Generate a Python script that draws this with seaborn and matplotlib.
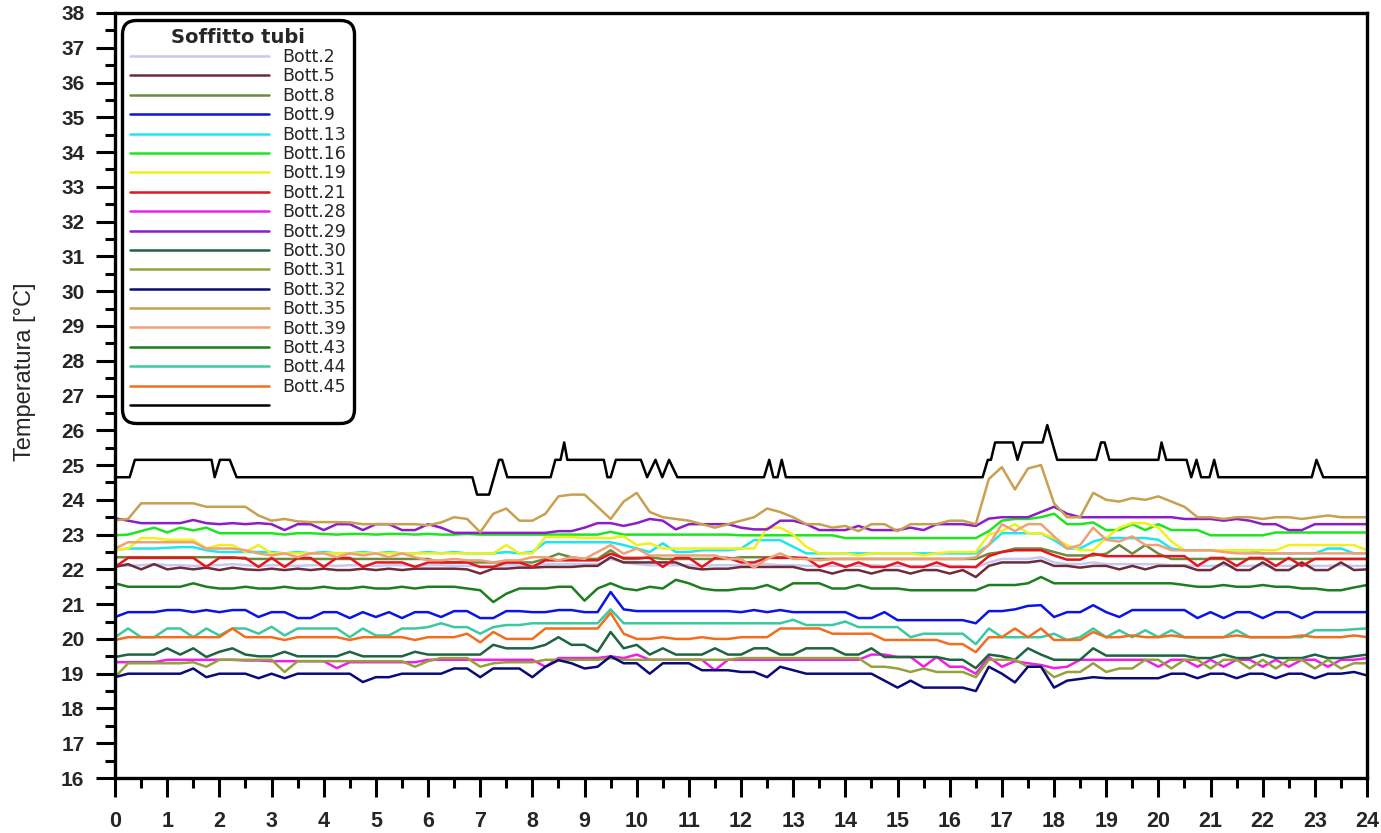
import numpy as np
import pandas as pd
import matplotlib
matplotlib.use("Agg")
import matplotlib.pyplot as plt
from matplotlib.lines import Line2D
import seaborn as sns

# --- dati (passo 0.25 h) ---
ore = np.arange(97) * 0.25

b2 = [22.12,22.1,22.12,22.15, 22.12,22.12,22.1,22.12, 22.12,22.15,22.12,22.1, 22.12,22.12,22.1,22.12,
      22.12,22.1,22.12,22.12, 22.1,22.12,22.12,22.1, 22.12,22.12,22.1,22.1, 22.1,22.1,22.12,22.12,
      22.12,22.15,22.15,22.15, 22.15,22.15,22.3,22.2, 22.15,22.12,22.12,22.12, 22.12,22.1,22.12,22.12,
      22.12,22.15,22.15,22.12, 22.12,22.1,22.1,22.1, 22.1,22.1,22.12,22.1, 22.1,22.1,22.1,22.1,
      22.1,22.1,22.05,22.2, 22.3,22.3,22.3,22.35, 22.2,22.15,22.15,22.2, 22.15,22.15,22.15,22.15,
      22.15,22.12,22.12,22.1, 22.1,22.12,22.1,22.1, 22.12,22.1,22.1,22.12, 22.1,22.1,22.12,22.1, 22.1]
b5 = [22.07,22.15,22.0,22.15, 22.0,22.05,22.0,22.05, 21.98,22.05,22.0,21.98, 22.02,21.98,22.02,21.98,
      22.02,21.98,21.98,22.02, 21.98,22.02,21.98,22.02, 22.02,22.02,22.02,22.0, 21.88,22.02,22.02,22.05,
      22.05,22.07,22.07,22.07, 22.1,22.1,22.35,22.2, 22.2,22.2,22.2,22.2, 22.05,22.0,22.02,22.02,
      22.07,22.07,22.07,22.07, 22.07,21.98,21.98,21.88, 21.98,21.98,21.88,21.98, 21.98,21.88,21.98,21.98,
      21.88,21.98,21.78,22.1, 22.2,22.2,22.2,22.25, 22.1,22.1,22.05,22.1, 22.1,22.0,22.1,22.0,
      22.1,22.1,22.1,21.98, 21.98,22.2,21.98,21.98, 22.2,21.98,21.98,22.2, 21.98,21.98,22.2,21.98, 22.0]
b8 = [22.35,22.35,22.35,22.35, 22.35,22.35,22.35,22.35, 22.35,22.35,22.3,22.3, 22.3,22.3,22.3,22.3,
      22.3,22.3,22.3,22.3, 22.3,22.3,22.3,22.3, 22.3,22.2,22.2,22.2, 22.2,22.2,22.2,22.2,
      22.2,22.3,22.45,22.35, 22.3,22.3,22.55,22.3, 22.3,22.35,22.3,22.3, 22.3,22.3,22.3,22.3,
      22.35,22.35,22.35,22.35, 22.35,22.3,22.3,22.3, 22.3,22.3,22.3,22.3, 22.3,22.3,22.3,22.3,
      22.3,22.3,22.3,22.45, 22.5,22.6,22.6,22.6, 22.5,22.4,22.4,22.4, 22.45,22.7,22.45,22.7,
      22.45,22.3,22.3,22.3, 22.3,22.3,22.3,22.3, 22.3,22.3,22.3,22.3, 22.3,22.3,22.3,22.3, 22.3]
b9 = [20.63,20.77,20.77,20.77, 20.83,20.83,20.77,20.83, 20.77,20.83,20.83,20.63, 20.77,20.77,20.6,20.6,
      20.77,20.77,20.6,20.77, 20.63,20.77,20.6,20.77, 20.77,20.63,20.8,20.8, 20.6,20.6,20.8,20.8,
      20.77,20.77,20.83,20.83, 20.77,20.77,21.35,20.85, 20.8,20.8,20.8,20.8, 20.8,20.8,20.8,20.8,
      20.77,20.83,20.77,20.83, 20.77,20.77,20.77,20.77, 20.77,20.6,20.6,20.77, 20.54,20.54,20.54,20.54,
      20.54,20.54,20.45,20.8, 20.8,20.85,20.95,20.97, 20.63,20.77,20.77,20.97, 20.77,20.63,20.83,20.83,
      20.83,20.83,20.83,20.6, 20.77,20.6,20.77,20.77, 20.6,20.77,20.77,20.6, 20.77,20.77,20.77,20.77, 20.77]
b13 = [22.55,22.6,22.6,22.6, 22.62,22.64,22.64,22.55, 22.5,22.5,22.5,22.5, 22.5,22.46,22.5,22.46,
       22.5,22.46,22.46,22.5, 22.46,22.5,22.46,22.46, 22.5,22.46,22.5,22.46, 22.46,22.46,22.5,22.46,
       22.5,22.78,22.78,22.78, 22.78,22.78,22.78,22.7, 22.6,22.5,22.75,22.5, 22.5,22.55,22.55,22.55,
       22.6,22.84,22.84,22.84, 22.65,22.46,22.46,22.46, 22.46,22.46,22.46,22.46, 22.46,22.46,22.46,22.46,
       22.46,22.46,22.46,22.7, 23.04,23.04,23.04,23.04, 22.84,22.6,22.6,22.8, 22.9,22.9,22.9,22.9,
       22.85,22.6,22.55,22.55, 22.55,22.55,22.55,22.55, 22.46,22.46,22.46,22.46, 22.46,22.6,22.6,22.46, 22.46]
b16 = [22.98,23.0,23.1,23.2, 23.06,23.2,23.12,23.2, 23.04,23.04,23.04,23.04, 23.04,23.0,23.04,23.04,
       23.02,23.0,23.02,23.02, 23.0,23.02,23.02,23.0, 23.02,23.0,23.0,23.02, 23.0,23.0,23.0,23.0,
       23.0,23.0,23.0,23.0, 23.0,23.0,23.08,23.0, 23.0,23.0,23.0,23.0, 23.0,23.0,23.0,23.0,
       22.98,22.98,22.98,22.98, 22.98,22.98,22.98,22.98, 22.9,22.9,22.9,22.9, 22.9,22.9,22.9,22.9,
       22.9,22.9,22.9,23.1, 23.4,23.45,23.45,23.5, 23.6,23.3,23.3,23.35, 23.13,23.13,23.3,23.13,
       23.3,23.13,23.13,23.13, 22.98,22.98,22.98,22.98, 22.98,23.06,23.06,23.06, 23.06,23.06,23.06,23.06, 23.06]
b19 = [22.55,22.6,22.9,22.9, 22.85,22.85,22.85,22.6, 22.7,22.7,22.5,22.7, 22.46,22.46,22.46,22.46,
       22.46,22.46,22.46,22.46, 22.46,22.46,22.46,22.46, 22.46,22.46,22.46,22.46, 22.46,22.46,22.7,22.46,
       22.46,22.93,22.93,22.93, 22.9,22.9,22.9,22.95, 22.7,22.75,22.6,22.6, 22.6,22.6,22.6,22.6,
       22.6,22.6,23.2,23.2, 23.0,22.65,22.46,22.46, 22.46,22.4,22.46,22.46, 22.46,22.46,22.4,22.46,
       22.5,22.5,22.5,23.0, 23.1,23.3,23.04,23.04, 22.9,22.7,22.55,22.55, 22.9,23.2,23.33,23.33,
       23.2,22.8,22.55,22.55, 22.55,22.55,22.55,22.55, 22.55,22.55,22.7,22.7, 22.7,22.7,22.7,22.7, 22.55]
b21 = [22.07,22.33,22.33,22.33, 22.33,22.33,22.33,22.07, 22.33,22.33,22.33,22.07, 22.33,22.07,22.33,22.33,
       22.07,22.33,22.33,22.07, 22.2,22.2,22.2,22.07, 22.2,22.2,22.2,22.2, 22.07,22.07,22.2,22.2,
       22.07,22.26,22.26,22.26, 22.26,22.26,22.45,22.33, 22.33,22.33,22.07,22.33, 22.33,22.07,22.33,22.33,
       22.2,22.2,22.33,22.33, 22.33,22.33,22.07,22.2, 22.07,22.2,22.07,22.07, 22.2,22.07,22.07,22.2,
       22.07,22.07,22.07,22.38, 22.5,22.55,22.55,22.55, 22.4,22.28,22.28,22.45, 22.38,22.38,22.38,22.38,
       22.38,22.38,22.38,22.1, 22.33,22.33,22.1,22.33, 22.33,22.1,22.33,22.1, 22.3,22.3,22.3,22.3, 22.3]
b28 = [19.33,19.33,19.33,19.33, 19.4,19.4,19.4,19.4, 19.4,19.4,19.38,19.38, 19.36,19.36,19.36,19.36,
       19.36,19.16,19.33,19.33, 19.33,19.33,19.33,19.33, 19.4,19.4,19.4,19.4, 19.4,19.4,19.4,19.4,
       19.4,19.2,19.45,19.45, 19.45,19.45,19.5,19.45, 19.55,19.4,19.4,19.4, 19.4,19.4,19.1,19.4,
       19.4,19.4,19.4,19.4, 19.4,19.4,19.4,19.4, 19.4,19.4,19.55,19.55, 19.48,19.48,19.2,19.48,
       19.2,19.2,19.0,19.48, 19.2,19.36,19.3,19.25, 19.16,19.2,19.4,19.4, 19.4,19.4,19.4,19.4,
       19.2,19.4,19.4,19.2, 19.4,19.2,19.4,19.4, 19.2,19.4,19.2,19.4, 19.4,19.2,19.4,19.4, 19.45]
b29 = [23.47,23.4,23.33,23.33, 23.33,23.33,23.42,23.33, 23.3,23.33,23.3,23.33, 23.3,23.13,23.3,23.3,
       23.13,23.3,23.3,23.13, 23.3,23.3,23.13,23.13, 23.3,23.2,23.05,23.05, 23.05,23.05,23.05,23.05,
       23.05,23.05,23.1,23.1, 23.2,23.33,23.33,23.25, 23.33,23.45,23.4,23.15, 23.3,23.3,23.3,23.3,
       23.2,23.15,23.15,23.4, 23.4,23.3,23.13,23.13, 23.13,23.25,23.13,23.13, 23.13,23.2,23.13,23.3,
       23.3,23.3,23.25,23.46, 23.5,23.5,23.5,23.65, 23.8,23.6,23.5,23.5, 23.5,23.5,23.5,23.5,
       23.5,23.5,23.45,23.45, 23.45,23.4,23.45,23.4, 23.3,23.3,23.13,23.13, 23.3,23.3,23.3,23.3, 23.3]
b30 = [19.48,19.55,19.55,19.55, 19.73,19.55,19.73,19.48, 19.63,19.73,19.55,19.5, 19.5,19.63,19.5,19.5,
       19.5,19.5,19.63,19.5, 19.5,19.5,19.5,19.63, 19.55,19.55,19.55,19.55, 19.55,19.83,19.73,19.73,
       19.73,19.83,20.05,19.83, 19.83,19.63,20.2,19.73, 19.83,19.55,19.73,19.55, 19.55,19.55,19.73,19.55,
       19.55,19.73,19.73,19.55, 19.55,19.73,19.73,19.73, 19.55,19.55,19.73,19.48, 19.48,19.48,19.48,19.48,
       19.4,19.4,19.16,19.55, 19.5,19.4,19.73,19.55, 19.4,19.4,19.4,19.73, 19.52,19.52,19.52,19.52,
       19.52,19.52,19.52,19.45, 19.45,19.55,19.45,19.45, 19.55,19.45,19.45,19.45, 19.55,19.45,19.45,19.5, 19.55]
b31 = [18.9,19.3,19.3,19.3, 19.3,19.3,19.33,19.2, 19.4,19.4,19.4,19.4, 19.4,19.05,19.36,19.36,
       19.36,19.36,19.36,19.36, 19.36,19.36,19.36,19.2, 19.36,19.45,19.45,19.45, 19.2,19.3,19.33,19.33,
       19.33,19.4,19.4,19.4, 19.4,19.4,19.45,19.4, 19.4,19.4,19.4,19.4, 19.4,19.4,19.4,19.4,
       19.45,19.45,19.45,19.45, 19.45,19.45,19.45,19.45, 19.45,19.45,19.2,19.2, 19.15,19.05,19.15,19.05,
       19.05,19.05,18.9,19.4, 19.4,19.4,19.2,19.2, 18.9,19.05,19.05,19.3, 19.05,19.15,19.15,19.4,
       19.4,19.15,19.4,19.4, 19.15,19.4,19.4,19.15, 19.4,19.15,19.4,19.4, 19.15,19.4,19.15,19.3, 19.3]
b32 = [18.9,19.0,19.0,19.0, 19.0,19.0,19.15,18.9, 19.0,19.0,19.0,18.87, 19.0,18.87,19.0,19.0,
       19.0,19.0,19.0,18.76, 18.9,18.9,19.0,19.0, 19.0,19.0,19.15,19.15, 18.9,19.15,19.15,19.15,
       18.9,19.2,19.39,19.3, 19.15,19.2,19.5,19.3, 19.3,19.0,19.3,19.3, 19.3,19.1,19.1,19.1,
       19.05,19.05,18.9,19.2, 19.1,19.0,19.0,19.0, 19.0,19.0,19.0,18.8, 18.6,18.8,18.6,18.6,
       18.6,18.6,18.5,19.2, 19.0,18.75,19.2,19.2, 18.6,18.8,18.85,18.9, 18.87,18.87,18.87,18.87,
       18.87,19.0,19.0,18.87, 19.0,19.0,18.87,19.0, 19.0,18.87,19.0,19.0, 18.87,19.0,19.0,19.05, 18.95]
b35 = [23.41,23.45,23.9,23.9, 23.9,23.9,23.9,23.8, 23.8,23.8,23.8,23.55, 23.4,23.45,23.38,23.36,
       23.36,23.36,23.35,23.3, 23.3,23.3,23.3,23.3, 23.27,23.35,23.5,23.45, 23.07,23.6,23.75,23.4,
       23.4,23.6,24.1,24.15, 24.15,23.8,23.45,23.95, 24.2,23.65,23.5,23.45, 23.4,23.3,23.2,23.3,
       23.4,23.5,23.75,23.65, 23.5,23.3,23.3,23.2, 23.25,23.1,23.3,23.3, 23.1,23.3,23.3,23.3,
       23.4,23.4,23.3,24.6, 24.94,24.3,24.9,25.0, 23.9,23.5,23.5,24.2, 24.0,23.95,24.05,24.0,
       24.1,23.95,23.8,23.5, 23.5,23.45,23.5,23.5, 23.45,23.5,23.5,23.45, 23.5,23.55,23.5,23.5, 23.5]
b39 = [22.6,22.78,22.78,22.78, 22.78,22.78,22.78,22.6, 22.6,22.6,22.55,22.46, 22.4,22.46,22.35,22.46,
       22.46,22.35,22.46,22.4, 22.46,22.35,22.46,22.35, 22.26,22.26,22.3,22.26, 22.26,22.2,22.26,22.26,
       22.35,22.35,22.26,22.35, 22.3,22.5,22.7,22.45, 22.6,22.4,22.4,22.4, 22.4,22.4,22.4,22.3,
       22.3,22.05,22.3,22.46, 22.3,22.3,22.26,22.3, 22.3,22.3,22.3,22.3, 22.3,22.3,22.3,22.3,
       22.3,22.3,22.35,22.7, 23.3,23.1,23.3,23.3, 22.95,22.6,22.7,23.2, 22.85,22.8,22.95,22.7,
       22.7,22.55,22.55,22.55, 22.55,22.5,22.46,22.46, 22.46,22.46,22.46,22.46, 22.46,22.46,22.46,22.46, 22.46]
b43 = [21.6,21.5,21.5,21.5, 21.5,21.5,21.6,21.5, 21.45,21.45,21.5,21.45, 21.45,21.5,21.45,21.45,
       21.5,21.45,21.45,21.5, 21.45,21.45,21.5,21.45, 21.5,21.5,21.5,21.45, 21.4,21.06,21.3,21.45,
       21.45,21.45,21.5,21.5, 21.1,21.45,21.6,21.45, 21.4,21.5,21.45,21.7, 21.6,21.45,21.4,21.4,
       21.45,21.45,21.55,21.4, 21.6,21.6,21.6,21.45, 21.45,21.55,21.45,21.45, 21.45,21.4,21.4,21.4,
       21.4,21.4,21.4,21.55, 21.55,21.55,21.6,21.78, 21.6,21.6,21.6,21.6, 21.6,21.6,21.6,21.6,
       21.6,21.6,21.55,21.5, 21.5,21.55,21.5,21.5, 21.55,21.5,21.5,21.45, 21.45,21.4,21.4,21.48, 21.55]
b44 = [20.05,20.3,20.05,20.05, 20.3,20.3,20.05,20.3, 20.1,20.3,20.3,20.15, 20.35,20.1,20.3,20.3,
       20.3,20.3,20.05,20.3, 20.1,20.1,20.3,20.3, 20.34,20.45,20.34,20.34, 20.15,20.34,20.4,20.4,
       20.45,20.45,20.45,20.45, 20.45,20.45,20.85,20.45, 20.45,20.45,20.45,20.45, 20.45,20.45,20.45,20.45,
       20.45,20.45,20.45,20.45, 20.55,20.4,20.4,20.4, 20.5,20.34,20.34,20.34, 20.34,20.05,20.15,20.15,
       20.15,20.15,19.85,20.3, 20.05,20.05,20.05,20.05, 20.15,19.97,20.05,20.3, 20.05,20.25,20.05,20.25,
       20.05,20.25,20.05,20.05, 20.05,20.05,20.25,20.05, 20.05,20.05,20.05,20.05, 20.25,20.25,20.25,20.28, 20.3]
b45 = [19.97,20.05,20.05,20.05, 20.05,20.05,20.05,20.05, 20.05,20.3,20.05,20.05, 20.05,19.97,20.05,20.05,
       20.05,20.05,19.97,20.05, 20.05,20.05,20.05,19.97, 20.05,20.05,20.05,20.15, 19.9,20.2,20.0,20.0,
       20.0,20.3,20.3,20.3, 20.3,20.3,20.75,20.15, 20.0,20.0,20.05,20.0, 20.0,20.05,20.0,20.0,
       20.05,20.05,20.05,20.3, 20.3,20.3,20.3,20.15, 20.15,20.15,20.15,19.97, 19.97,19.97,19.97,19.97,
       19.85,19.85,19.62,20.05, 20.05,20.3,20.05,20.3, 19.97,19.97,19.97,20.2, 20.05,20.05,20.1,20.05,
       20.05,20.1,20.05,20.05, 20.05,20.05,20.1,20.05, 20.05,20.05,20.05,20.1, 20.05,20.05,20.05,20.1, 20.05]

# sonda senza nome (linea nera): punti di rottura
nero_t = [0, 0.28, 0.38, 1.85, 1.91, 2.01, 2.2, 2.33, 6.85, 6.94, 7.17, 7.36, 7.42, 7.52,
          8.35, 8.44, 8.54, 8.61, 8.67, 9.37, 9.44, 9.5, 9.6, 10.08, 10.2, 10.36, 10.49, 10.62,
          10.78, 12.44, 12.54, 12.62, 12.7, 12.78, 12.86, 16.63, 16.73, 16.79, 16.87, 17.21, 17.3,
          17.4, 17.78, 17.87, 18.06, 18.81, 18.9, 18.97, 19.06, 20.0, 20.06, 20.15, 20.54, 20.63,
          20.73, 20.82, 20.98, 21.07, 21.15, 22.94, 23.03, 23.16, 24]
nero_v = [24.65, 24.65, 25.15, 25.15, 24.65, 25.15, 25.15, 24.65, 24.65, 24.15, 24.15, 25.15, 25.15, 24.65,
          24.65, 25.15, 25.15, 25.65, 25.15, 25.15, 24.65, 24.65, 25.15, 25.15, 24.65, 25.15, 24.65, 25.15,
          24.65, 24.65, 25.15, 24.65, 24.65, 25.15, 24.65, 24.65, 25.15, 25.15, 25.65, 25.65, 25.15,
          25.65, 25.65, 26.15, 25.15, 25.15, 25.65, 25.65, 25.15, 25.15, 25.65, 25.15, 25.15, 24.65,
          25.15, 24.65, 24.65, 25.15, 24.65, 24.65, 25.15, 24.65, 24.65]

nomi = ["Bott.2", "Bott.5", "Bott.8", "Bott.9", "Bott.13", "Bott.16", "Bott.19", "Bott.21",
        "Bott.28", "Bott.29", "Bott.30", "Bott.31", "Bott.32", "Bott.35", "Bott.39",
        "Bott.43", "Bott.44", "Bott.45"]
valori = [b2, b5, b8, b9, b13, b16, b19, b21, b28, b29, b30, b31, b32, b35, b39, b43, b44, b45]
colori = ["#c8c8f0", "#6b2d3a", "#6e8b3d", "#0a14e6", "#1ee6f0", "#1ee61e", "#f0f01e", "#e6141e",
          "#f01ee6", "#8c1ec8", "#1e6440", "#96a03c", "#0a0a78", "#c8a050", "#f0a078",
          "#1e7d1e", "#3cc8a0", "#f06e1e"]

for v in valori:
    assert len(v) == len(ore)

df = pd.DataFrame({
    "ora": np.tile(ore, len(nomi)),
    "temp": np.concatenate(valori),
    "sonda": np.repeat(nomi, len(ore)),
})

sns.set_style("ticks")
plt.rcParams["font.family"] = ["Liberation Sans", "DejaVu Sans"]

fig = plt.figure(figsize=(13.81, 8.33), dpi=100)
ax = fig.add_axes([0.0833, 0.066, 0.9066, 0.9184])

lw = 1.8
sns.lineplot(data=df, x="ora", y="temp", hue="sonda", hue_order=nomi,
             palette=dict(zip(nomi, colori)), linewidth=lw, estimator=None,
             legend=False, ax=ax)
sns.lineplot(x=nero_t, y=nero_v, color="black", linewidth=lw, estimator=None,
             sort=False, ax=ax)

ax.set_xlim(0, 24)
ax.set_ylim(16, 38)
ax.set_xticks(range(0, 25))
ax.set_xticks(np.arange(0.5, 24, 1), minor=True)
ax.set_yticks(range(16, 39))
ax.set_yticks(np.arange(16.5, 38, 1), minor=True)
ax.set_xlabel("")
ax.set_ylabel("")

for s in ax.spines.values():
    s.set_linewidth(2.4)
    s.set_color("black")
ax.tick_params(which="major", direction="out", length=14, width=2.2, color="black")
ax.tick_params(which="minor", direction="out", length=7, width=2.2, color="black")
ax.tick_params(axis="x", which="major", pad=10)
ax.tick_params(axis="y", which="major", pad=8)

for lab in ax.get_yticklabels():
    lab.set_fontsize(15)
    lab.set_fontweight("bold")
for lab in ax.get_xticklabels():
    lab.set_fontsize(15.5)
    lab.set_fontweight("bold")
    lab.set_family(["Liberation Sans Narrow", "Liberation Sans"])

fig.text(25 / 1381, 1 - 372 / 833, "Temperatura [°C]", rotation=90,
         ha="center", va="center", fontsize=17)

# legenda
maniglie = [Line2D([], [], color=c, linewidth=lw) for c in colori]
maniglie.append(Line2D([], [], color="black", linewidth=lw))
etichette = nomi + [" "]
leg = ax.legend(maniglie, etichette, title="Soffitto tubi", loc="upper left",
                bbox_to_anchor=(0.0056, 0.991), borderaxespad=0,
                prop={"family": "DejaVu Sans", "size": 12.5},
                title_fontproperties={"family": "DejaVu Sans", "weight": "bold", "size": 14},
                handlelength=8.0, handletextpad=0.8, labelspacing=0.08,
                borderpad=0.45, frameon=True, fancybox=True, framealpha=1)
fr = leg.get_frame()
fr.set_edgecolor("black")
fr.set_linewidth(2.4)
fr.set_boxstyle("round,pad=0,rounding_size=0.8")

fig.savefig("out.png", dpi=100)
